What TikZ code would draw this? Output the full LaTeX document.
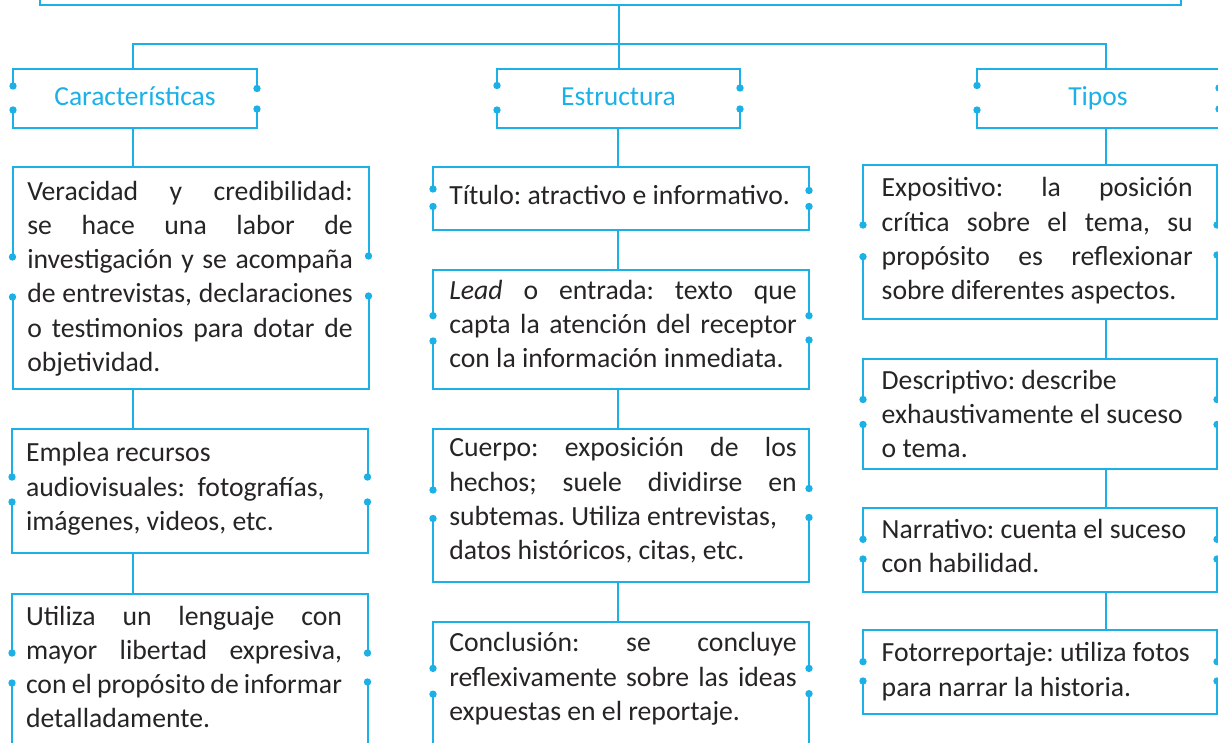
\documentclass[tikz,border=0pt]{standalone}
\usepackage{fontspec}
\setmainfont{Carlito}
\usetikzlibrary{calc}
\frenchspacing
\definecolor{cy}{HTML}{1BB1E7}
\definecolor{ink}{HTML}{262425}
\tikzset{
  ln/.style={draw=cy, line width=2pt},
  bx/.style={inner sep=0pt, outer sep=0pt, anchor=north west},
  hd/.style={text=cy, font=\fontsize{27.5}{33}\selectfont, text height=20pt, text depth=7pt},
  txt/.style={anchor=base west, inner sep=0pt, outer sep=0pt, text=ink, font=\fontsize{27.7}{34.3}\selectfont},
}
\newcommand\jl[1]{\makebox[\linewidth][s]{#1}}
\newcommand\pb[2]{\parbox[t]{#1pt}{\fontsize{27.7}{34.3}\selectfont\frenchspacing #2}}
% gap frame: name, left dot offsets (2), right dot offsets (2)
\newcommand\gframe[5]{%
  \draw[ln] ($(#1.north west)+(0,#2)$) -- (#1.north west) -- (#1.north east) -- ($(#1.north east)+(0,#4)$);
  \draw[ln] ($(#1.north west)+(0,#3)$) -- (#1.south west) -- (#1.south east) -- ($(#1.north east)+(0,#5)$);
  \fill[cy] ($(#1.north west)+(0,#2)$) circle[radius=3.7pt];
  \fill[cy] ($(#1.north west)+(0,#3)$) circle[radius=3.7pt];
  \fill[cy] ($(#1.north east)+(0,#4)$) circle[radius=3.7pt];
  \fill[cy] ($(#1.north east)+(0,#5)$) circle[radius=3.7pt];
}
\begin{document}
\begin{tikzpicture}[x=1pt,y=-1pt]
\useasboundingbox (0,0) rectangle (1218,742);
\clip (0,0) rectangle (1218,742);
\fill[white] (0,0) rectangle (1218,742);

% stem x positions
\coordinate (k1) at (133,0);
\coordinate (k2) at (619,0);
\coordinate (k2b) at (617.7,0);
\coordinate (k3) at (1105.5,0);

% top box (cut off)
\node[bx, anchor=south west, minimum width=1141pt, minimum height=80pt, draw=cy, line width=2pt] (top) at (39.5,5) {};

% headers
\node[bx, hd, minimum width=244pt, minimum height=59pt] (car) at (13,69) {Características};
\node[bx, hd, minimum width=243pt, minimum height=59pt] (est) at (497,69) {Estructura};
\node[bx, hd, minimum width=242pt, minimum height=59pt] (tip) at (977,69) {Tipos};

% content boxes column 1
\node[bx, minimum width=356pt, minimum height=222pt] (a1) at (12.5,167) {};
\node[bx, minimum width=355.5pt, minimum height=124pt] (a2) at (12,429) {};
\node[bx, minimum width=355.5pt, minimum height=176pt] (a3) at (12,594) {};
% column 2
\node[bx, minimum width=376pt, minimum height=62.5pt] (b1) at (433,167) {};
\node[bx, minimum width=376pt, minimum height=118.5pt] (b2) at (433,270) {};
\node[bx, minimum width=376pt, minimum height=153pt] (b3) at (433,428.5) {};
\node[bx, minimum width=376pt, minimum height=158pt] (b4) at (433,621.7) {};
% column 3
\node[bx, minimum width=354pt, minimum height=153.5pt] (c1) at (863,165) {};
\node[bx, minimum width=354pt, minimum height=110pt] (c2) at (863,358.5) {};
\node[bx, minimum width=354pt, minimum height=83.4pt] (c3) at (863,508.3) {};
\node[bx, minimum width=354pt, minimum height=84.3pt] (c4) at (863,630) {};

% connectors
\draw[ln] (top.south -| k2) -- (est.north -| k2);
\draw[ln] (car.north -| k1) -- ++(0,-25) -| (tip.north -| k3);
\draw[ln] (car.south -| k1) -- (a1.north -| k1);
\draw[ln] (a1.south -| k1) -- (a2.north -| k1);
\draw[ln] (a2.south -| k1) -- (a3.north -| k1);
\draw[ln] (est.south -| k2b) -- (b1.north -| k2b);
\draw[ln] (b1.south -| k2b) -- (b2.north -| k2b);
\draw[ln] (b2.south -| k2b) -- (b3.north -| k2b);
\draw[ln] (b3.south -| k2b) -- (b4.north -| k2b);
\draw[ln] (tip.south -| k3) -- (c1.north -| k3);
\draw[ln] (c1.south -| k3) -- (c2.north -| k3);
\draw[ln] (c2.south -| k3) -- (c3.north -| k3);
\draw[ln] (c3.south -| k3) -- (c4.north -| k3);

% frames
\gframe{car}{17}{41}{19.5}{40}
\gframe{est}{16.5}{41}{19}{40}
\gframe{tip}{16.5}{41}{19}{40}
\gframe{a1}{90}{130}{89}{129}
\gframe{a2}{48}{73}{48}{73}
\gframe{a3}{59}{89}{59}{88}
\gframe{b1}{22}{39.5}{23.5}{39.5}
\gframe{b2}{45.7}{71}{45.7}{70}
\gframe{b3}{61.5}{90}{60}{89}
\gframe{b4}{46.7}{72.5}{46.7}{72}
\gframe{c1}{60}{91.7}{60}{90}
\gframe{c2}{41}{66}{41}{66}
\gframe{c3}{31}{50.7}{31}{50.7}
\gframe{c4}{31.7}{51}{31.7}{51}

% texts column 1
\node[txt] (a1t) at (27.3,200) {\pb{325.5}{\jl{Veracidad y credibilidad:}\\
\jl{se hace una labor de}\\
\jl{investigación y se acompaña}\\
\jl{de entrevistas, declaraciones}\\
\jl{o testimonios para dotar de}\\
objetividad.}};
\node[txt] (a2t) at (26,461.7) {\pb{330}{Emplea recursos\\
audiovisuales:\ \ fotografías,\\
imágenes, videos, etc.}};
\node[txt] (a3t) at (26,625) {\pb{316}{\jl{Utiliza un lenguaje con}\\
\jl{mayor libertad expresiva,}\\
con el propósito de informar\\
detalladamente.}};

% texts column 2
\node[txt] (b1t) at (449.3,204.3) {\pb{350}{Título: atractivo e informativo.}};
\node[txt] (b2t) at (449.3,299.3) {\pb{347.5}{\jl{\textit{Lead} o entrada: texto que}\\
\jl{capta la atención del receptor}\\
con la información inmediata.}};
\node[txt] (b3t) at (449.3,456.7) {\pb{347.5}{\jl{Cuerpo: exposición de los}\\
\jl{hechos; suele dividirse en}\\
subtemas. Utiliza entrevistas,\\
datos históricos, citas, etc.}};
\node[txt] (b4t) at (449.3,651.7) {\pb{347.5}{\jl{Conclusión: se concluye}\\
\jl{reflexivamente sobre las ideas}\\
expuestas en el reportaje.}};

% texts column 3
\node[txt] (c1t) at (881.7,196.7) {\pb{311}{\jl{Expositivo: la posición}\\
\jl{crítica sobre el tema, su}\\
\jl{propósito es reflexionar}\\
sobre diferentes aspectos.}};
\node[txt] (c2t) at (881.7,389.3) {\pb{320}{Descriptivo: describe\\
exhaustivamente el suceso\\
o tema.}};
\node[txt] (c3t) at (881.7,538.3) {\pb{320}{Narrativo: cuenta el suceso\\
con habilidad.}};
\node[txt] (c4t) at (881.7,661.7) {\pb{320}{Fotorreportaje: utiliza fotos\\
para narrar la historia.}};
\end{tikzpicture}
\end{document}
